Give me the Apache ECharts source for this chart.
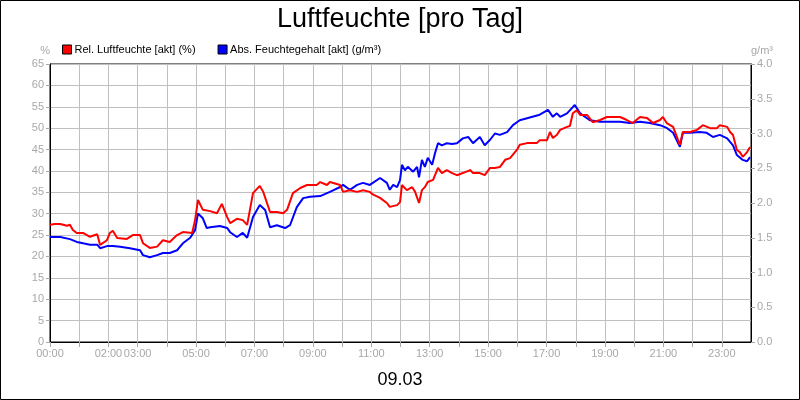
<!DOCTYPE html>
<html>
<head>
<meta charset="utf-8">
<script src="https://cdn.jsdelivr.net/npm/echarts@6/dist/echarts.min.js"></script>
<style>
html,body{margin:0;padding:0;background:#fff;}
#c{width:800px;height:400px;}
</style>
</head>
<body>
<div id="c"></div>
<script>
// Data: time in minutes after midnight
const relTimes = [0,10,21,35,41,47,55,68,82,97,103,117,123,129,138,158,170,185,191,205,220,232,246,261,273,292,298,304,314,329,343,353,364,370,384,396,405,417,431,438,452,466,479,487,499,514,528,548,555,569,575,596,602,616,631,643,657,663,678,692,698,713,719,723,733,744,750,758,764,770,776,787,797,805,815,826,836,848,863,869,883,893,904,914,924,935,945,959,965,980,1000,1006,1021,1027,1033,1041,1048,1062,1068,1074,1082,1089,1103,1115,1130,1144,1156,1171,1185,1197,1212,1226,1239,1253,1259,1267,1280,1294,1300,1315,1329,1341,1356,1370,1376,1391,1397,1403,1411,1417,1423,1432,1438];
const relValues = [27.4,27.6,27.6,27.2,27.4,26.2,25.5,25.5,24.6,25.2,22.7,23.8,25.5,26,24.3,24.1,25,25,23.1,22,22.3,23.8,23.4,25,25.7,25.5,28.5,33.2,30.9,30.6,30.1,32.3,29.2,27.8,28.8,28.5,27.4,34.8,36.5,35.1,30.4,30.4,30.1,30.9,34.8,36,36.7,36.7,37.4,36.7,37.4,36.7,35.1,35.5,35.1,35.5,35.1,34.5,33.7,32.5,31.6,32,32.7,36.7,35.5,36.2,35.1,32.5,35.5,36.2,37.4,37.9,40.7,39.5,40.2,39.5,39,39.5,40.2,39.5,39.5,39,40.7,40.7,40.9,42.6,43,44.9,46.1,46.5,46.5,47.2,47.2,49.1,47.7,48.4,49.6,50.3,50.5,53.5,54.2,53.1,53.1,51.4,51.9,52.6,52.6,52.6,51.9,51.2,52.6,52.4,51.2,51.9,52.6,51.2,50.3,46.1,49.1,49.1,49.6,50.7,50,50,50.7,50.3,49.1,48.4,44.9,44.4,43.3,44.4,45.6];
const absTimes = [0,21,41,55,68,82,97,103,117,129,144,164,185,191,205,220,232,246,261,273,288,298,304,314,322,329,349,364,370,384,396,405,417,431,442,452,466,483,493,507,520,534,555,575,596,602,616,631,643,657,678,692,698,705,713,719,723,729,735,746,754,758,764,770,776,785,791,797,805,815,826,836,848,859,869,883,893,904,914,924,939,951,965,980,1006,1023,1033,1041,1048,1062,1074,1078,1089,1109,1130,1150,1171,1191,1212,1232,1253,1267,1280,1294,1300,1315,1335,1349,1362,1376,1391,1403,1411,1423,1432,1438];
const absValues = [1.51,1.51,1.48,1.44,1.42,1.40,1.40,1.35,1.38,1.38,1.37,1.35,1.32,1.25,1.22,1.25,1.28,1.28,1.32,1.42,1.50,1.61,1.85,1.78,1.64,1.65,1.67,1.64,1.58,1.51,1.57,1.50,1.80,1.97,1.90,1.65,1.68,1.64,1.68,1.94,2.07,2.09,2.10,2.16,2.23,2.26,2.19,2.26,2.29,2.26,2.36,2.29,2.19,2.26,2.23,2.33,2.55,2.47,2.52,2.45,2.52,2.37,2.62,2.52,2.65,2.55,2.72,2.86,2.83,2.86,2.85,2.86,2.93,2.95,2.86,2.95,2.83,2.91,3.00,2.98,3.02,3.12,3.19,3.22,3.27,3.34,3.24,3.29,3.24,3.29,3.38,3.41,3.29,3.19,3.17,3.17,3.17,3.15,3.17,3.15,3.12,3.08,3.01,2.81,3.01,3.01,3.02,3.01,2.95,2.98,2.93,2.83,2.69,2.62,2.60,2.66];
const xLabelHours = [0,2,3,5,7,9,11,13,15,17,19,21,23];
const titleText = 'Luftfeuchte [pro Tag]';
const dateText = '09.03';
const relName = 'Rel. Luftfeuchte [akt] (%)';
const absName = 'Abs. Feuchtegehalt [akt] (g/m³)';

const FONT = '"Liberation Sans", Arial, sans-serif';
const GREY = '#a8a8a8';
const chart = echarts.init(document.getElementById('c'), null, {renderer: 'canvas'});
const pad = n => (n < 10 ? '0' : '') + n;

chart.setOption({
  animation: false,
  backgroundColor: '#fff',
  textStyle: {fontFamily: FONT},
  title: [
    {text: titleText, left: 'center', top: 1, textStyle: {fontSize: 27, fontWeight: 'normal', color: '#000', fontFamily: FONT}},
    {text: dateText, left: 'center', top: 366, textStyle: {fontSize: 18, fontWeight: 'normal', color: '#000', fontFamily: FONT}}
  ],
  legend: {
    left: 57, top: 39, itemWidth: 9, itemHeight: 9, itemGap: 22, icon: 'rect',
    textStyle: {fontSize: 11, color: '#000', fontFamily: FONT, padding: [0,0,0,-2]},
    data: [
      {name: relName, itemStyle: {color: '#ff0000', borderColor: '#000', borderWidth: 1}},
      {name: absName, itemStyle: {color: '#0000ff', borderColor: '#000', borderWidth: 1}}
    ]
  },
  grid: {left: 50, right: 49, top: 64, bottom: 58, show: true, borderColor: '#000', borderWidth: 1, containLabel: false},
  xAxis: {
    type: 'value', min: 0, max: 1440, interval: 60,
    axisLine: {show: true, lineStyle: {color: '#000'}},
    axisTick: {show: true, length: 5, lineStyle: {color: GREY}},
    axisLabel: {
      color: GREY, fontSize: 11, margin: 6, fontFamily: FONT, showMaxLabel: false,
      formatter: v => { const h = Math.round(v / 60); return xLabelHours.indexOf(h) >= 0 && v < 1440 ? pad(h) + ':00' : ''; }
    },
    splitLine: {show: true, lineStyle: {color: '#c0c0c0', width: 1}}
  },
  yAxis: [
    {
      type: 'value', min: 0, max: 65, interval: 5, position: 'left',
      name: '%', nameLocation: 'end', nameGap: 8, nameTextStyle: {color: GREY, fontSize: 11, align: 'right'},
      axisLine: {show: true, lineStyle: {color: '#000'}},
      axisTick: {show: true, length: 4, lineStyle: {color: GREY}},
      axisLabel: {color: GREY, fontSize: 11, margin: 6, fontFamily: FONT},
      splitLine: {show: true, lineStyle: {color: '#c0c0c0', width: 1}}
    },
    {
      type: 'value', min: 0, max: 4, interval: 0.5, position: 'right',
      name: 'g/m³', nameLocation: 'end', nameGap: 8, nameTextStyle: {color: GREY, fontSize: 11, align: 'left'},
      axisLine: {show: true, lineStyle: {color: '#000'}},
      axisTick: {show: true, length: 4, lineStyle: {color: GREY}},
      axisLabel: {color: GREY, fontSize: 11, margin: 6, fontFamily: FONT, formatter: v => v.toFixed(1)},
      splitLine: {show: false}
    }
  ],
  graphic: [{
    type: 'rect', silent: true, z: 100,
    shape: {x: 0.5, y: 0.5, width: 799, height: 399},
    style: {fill: 'none', stroke: '#000', lineWidth: 1}
  }],
  series: [
    {
      name: relName, type: 'line', yAxisIndex: 0, showSymbol: false, symbol: 'none',
      lineStyle: {color: '#ff0000', width: 2}, itemStyle: {color: '#ff0000'},
      data: relTimes.map((t, i) => [t, relValues[i]]), z: 3
    },
    {
      name: absName, type: 'line', yAxisIndex: 1, showSymbol: false, symbol: 'none',
      lineStyle: {color: '#0000ff', width: 2}, itemStyle: {color: '#0000ff'},
      data: absTimes.map((t, i) => [t, absValues[i]]), z: 2
    }
  ]
});
</script>
</body>
</html>
